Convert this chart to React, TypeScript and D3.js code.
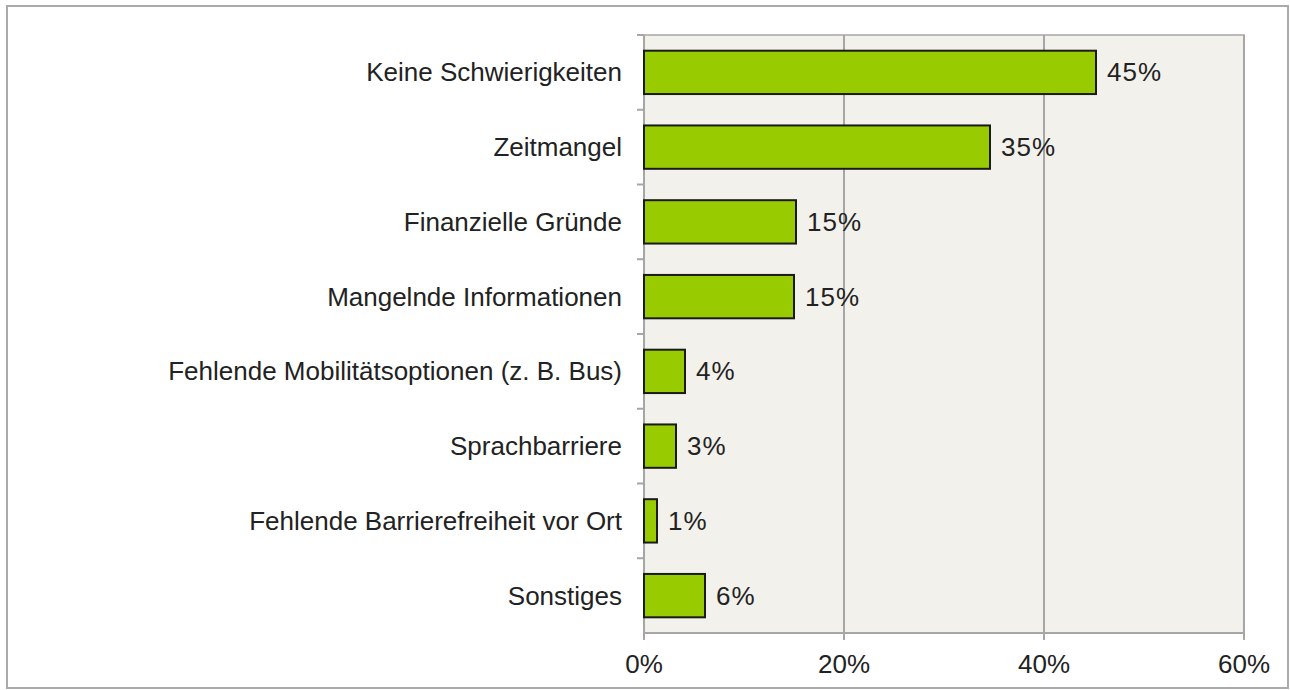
import React from "react";
import * as d3 from "d3";

const categories = [
  "Keine Schwierigkeiten",
  "Zeitmangel",
  "Finanzielle Gründe",
  "Mangelnde Informationen",
  "Fehlende Mobilitätsoptionen (z. B. Bus)",
  "Sprachbarriere",
  "Fehlende Barrierefreiheit vor Ort",
  "Sonstiges",
];
const values = [45.2, 34.6, 15.2, 15.0, 4.1, 3.2, 1.3, 6.1];
const valueLabels = ["45%", "35%", "15%", "15%", "4%", "3%", "1%", "6%"];
const xTicks = [0, 20, 40, 60];

export default function App() {
  const W = 1290, H = 690;
  const left = 644, right = 1244, top = 35, bottom = 633;
  const x = d3.scaleLinear().domain([0, 60]).range([left, right]);
  const y = d3.scaleBand<string>().domain(categories).range([top, bottom]).paddingInner(0.42).paddingOuter(0.21);
  const band = d3.scaleBand<string>().domain(categories).range([top, bottom]);
  const font = "'Liberation Sans', Arial, sans-serif";
  return (
    <svg width={W} height={H} style={{ position: "absolute", left: 0, top: 0 }}>
      <rect x={0} y={0} width={W} height={H} fill="#fff" />
      <rect x={7} y={6} width={1281} height={682} fill="#fff" stroke="#aaa" strokeWidth={2} />
      <rect x={left} y={top} width={right - left} height={bottom - top} fill="#f2f1eb" stroke="#a6a6a6" strokeWidth={1.5} />
      {xTicks.slice(1).map((t) => (
        <line key={t} x1={x(t)} x2={x(t)} y1={top} y2={bottom} stroke="#a6a6a6" strokeWidth={2} />
      ))}
      {/* x axis */}
      <line x1={left} x2={right} y1={bottom} y2={bottom} stroke="#a6a6a6" strokeWidth={2} />
      {xTicks.map((t) => (
        <g key={t}>
          <line x1={x(t)} x2={x(t)} y1={bottom} y2={bottom + 7} stroke="#a6a6a6" strokeWidth={2} />
          <text x={x(t)} y={bottom + 40} textAnchor="middle" fontFamily={font} fontSize={26} fill="#222">
            {t}%
          </text>
        </g>
      ))}
      {/* y axis */}
      <line x1={left} x2={left} y1={top} y2={bottom + 7} stroke="#a6a6a6" strokeWidth={2} />
      {categories.map((c, i) => (
        <line key={"t" + i} x1={left - 7} x2={left} y1={band(c)!} y2={band(c)!} stroke="#a6a6a6" strokeWidth={2} />
      ))}
      {categories.map((c, i) => (
        <g key={c}>
          <rect x={x(0)} y={y(c)!} width={x(values[i]) - x(0)} height={y.bandwidth()} fill="#99cc00" stroke="#1a1a1a" strokeWidth={2} />
          <text x={left - 22} y={y(c)! + y.bandwidth() / 2} dy="0.35em" textAnchor="end" fontFamily={font} fontSize={26} fill="#222">
            {c}
          </text>
          <text x={x(values[i]) + 11} y={y(c)! + y.bandwidth() / 2} dy="0.35em" fontFamily={font} fontSize={26} letterSpacing={1} fill="#222">
            {valueLabels[i]}
          </text>
        </g>
      ))}
    </svg>
  );
}
